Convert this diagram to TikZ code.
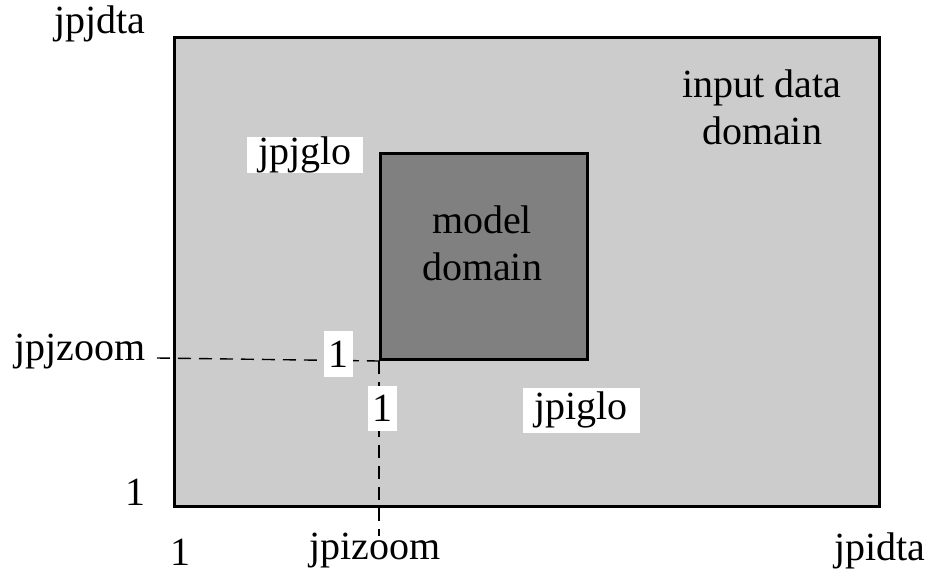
\documentclass[tikz,border=0pt]{standalone}
\usepackage{fontspec}
\setmainfont{Liberation Serif}
\begin{document}
\begin{tikzpicture}[x=1pt,y=-1pt,
  every node/.style={font=\fontsize{40}{47}\selectfont},
  domainbox/.style={draw,line width=3pt,inner sep=0pt,anchor=north west},
  tag/.style={fill=white,inner sep=0pt},
  zoomline/.style={line width=1.4pt,dash pattern=on 13pt off 8pt}]

\useasboundingbox (0,0) rectangle (928,576) ;

% domaine des donnees d'entree

\node[domainbox,fill=black!20,minimum width=705pt,minimum height=469pt] (dta) at (173,36) {} ;
\node[align=center] (dtatxt) at (762,107) {input data\\domain} ;

% domaine du modele

\node[domainbox,fill=black!50,minimum width=207pt,minimum height=206pt] (glo) at (379,152) {} ;
\node[align=center] (glotxt) at (482,243) {model\\domain} ;

% traits du zoom

\coordinate (jzoom) at (157,358) ;
\coordinate (izoom) at (379,536) ;
\draw[zoomline] (jzoom) -- (glo.south west) ;
\draw[zoomline] (glo.south west) -- (izoom) ;

% etiquettes

\node[tag,minimum width=116pt,minimum height=35pt] (jglo) at (305,155) {jpjglo} ;
\node[tag,minimum width=117pt,minimum height=45pt] (iglo) at (581,410) {jpiglo} ;
\node[tag,minimum width=29pt,minimum height=46pt] (jone) at (338,354) {1} ;
\node[tag,minimum width=29pt,minimum height=45pt] (ione) at (382,408) {1} ;

\node (jdta) at (100,24) {jpjdta} ;
\node (jzoomtxt) at (80,352) {jpjzoom} ;
\node (jbase) at (135,492) {1} ;
\node (ibase) at (180,552) {1} ;
\node (izoomtxt) at (375,551) {jpizoom} ;
\node (idta) at (880,551) {jpidta} ;

\end{tikzpicture}
\end{document}
